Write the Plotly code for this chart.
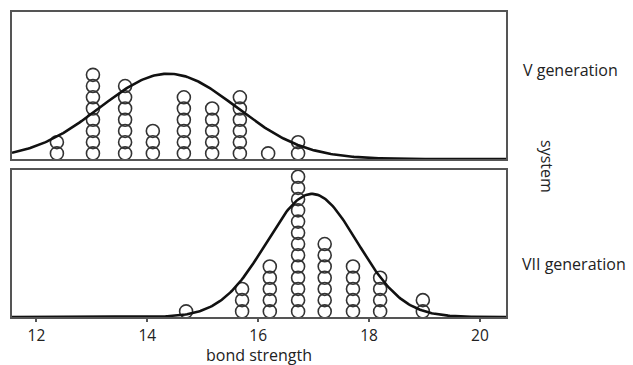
import numpy as np
import plotly.graph_objects as go

# ---- data ----
v_positions = [12.37, 13.02, 13.60, 14.10, 14.66, 15.17, 15.67, 16.18, 16.72]
v_counts = [2, 8, 7, 3, 6, 5, 6, 1, 2]

vii_positions = [14.70, 15.71, 16.21, 16.72, 17.20, 17.71, 18.20, 18.97]
vii_counts = [1, 3, 5, 13, 7, 5, 4, 2]

# fitted normal curves (mean, sd, peak height in dot units)
v_fit = dict(mean=14.38, sd=1.23, peak=7.6)
vii_fit = dict(mean=16.97, sd=0.82, peak=10.97)

x_ticks = [12, 14, 16, 18, 20]
panel_labels = ["V generation", "VII generation"]
side_title = "system"
x_title = "bond strength"

X_RANGE = [11.56, 20.47]
Y_RANGE = [0, 13.1]


def stack(positions, counts):
    xs, ys = [], []
    for p, c in zip(positions, counts):
        for k in range(c):
            xs.append(p)
            ys.append(k + 0.5)
    return xs, ys


def curve(fit):
    xs = np.linspace(X_RANGE[0], X_RANGE[1], 300)
    ys = fit["peak"] * np.exp(-0.5 * ((xs - fit["mean"]) / fit["sd"]) ** 2)
    return xs, ys


fig = go.Figure()
marker = dict(symbol="circle-open", size=13, color="#333333", line=dict(width=1.6, color="#333333"))
line = dict(color="#111111", width=2.6)

vx, vy = stack(v_positions, v_counts)
fig.add_trace(go.Scatter(x=vx, y=vy, mode="markers", marker=marker, xaxis="x2", yaxis="y2",
                         showlegend=False, hoverinfo="skip"))
cx, cy = curve(v_fit)
fig.add_trace(go.Scatter(x=cx, y=cy, mode="lines", line=line, xaxis="x2", yaxis="y2",
                         showlegend=False, hoverinfo="skip"))

wx, wy = stack(vii_positions, vii_counts)
fig.add_trace(go.Scatter(x=wx, y=wy, mode="markers", marker=marker, xaxis="x", yaxis="y",
                         showlegend=False, hoverinfo="skip"))
cx, cy = curve(vii_fit)
fig.add_trace(go.Scatter(x=cx, y=cy, mode="lines", line=line, xaxis="x", yaxis="y",
                         showlegend=False, hoverinfo="skip"))

axis_common = dict(showgrid=False, zeroline=False, showline=True, mirror=True,
                   linecolor="#555555", linewidth=2)

fig.update_layout(
    width=633, height=365,
    margin=dict(l=12, r=127, t=10, b=48),
    paper_bgcolor="white", plot_bgcolor="white",
    font=dict(family="Open Sans", size=16, color="#222222"),
    xaxis=dict(range=X_RANGE, anchor="y", tickvals=x_ticks, ticktext=[str(t) for t in x_ticks],
               ticks="outside", ticklen=3, tickwidth=1.5, tickcolor="#555555",
               tickfont=dict(size=15.5), **axis_common),
    xaxis2=dict(range=X_RANGE, anchor="y2", matches="x", showticklabels=False, ticks="",
                **axis_common),
    yaxis=dict(range=Y_RANGE, domain=[0, 0.482], showticklabels=False, ticks="", **axis_common),
    yaxis2=dict(range=Y_RANGE, domain=[0.518, 1], showticklabels=False, ticks="", **axis_common),
    annotations=[
        dict(text=panel_labels[0], xref="paper", yref="paper", x=1.030, y=0.811,
             xanchor="left", yanchor="middle", showarrow=False, font=dict(size=16)),
        dict(text=panel_labels[1], xref="paper", yref="paper", x=1.028, y=0.1726,
             xanchor="left", yanchor="middle", showarrow=False, font=dict(size=16)),
        dict(text=side_title, xref="paper", yref="paper", x=1.083, y=0.495,
             xanchor="center", yanchor="middle", textangle=90, showarrow=False,
             font=dict(size=16)),
        dict(text=x_title, xref="paper", yref="paper", x=0.5, y=-0.124,
             xanchor="center", yanchor="middle", showarrow=False, font=dict(size=16)),
    ],
)

fig.write_html("out.html", config={"displayModeBar": False},
               post_script="document.body.style.margin='0px';document.body.style.overflow='hidden';")
